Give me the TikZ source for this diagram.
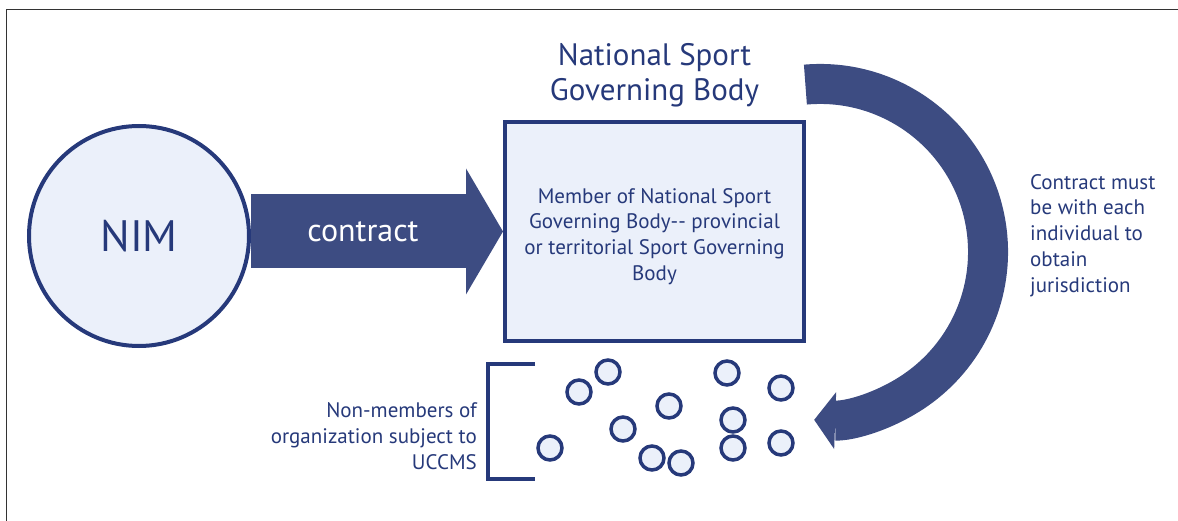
\documentclass[tikz,border=0pt]{standalone}
\usepackage{fontspec}
\setmainfont{PT Sans}
\usepackage{tikz}
\usetikzlibrary{arrows.meta,positioning}

\definecolor{navy}{HTML}{26397A}
\definecolor{arrowblue}{HTML}{3D4C82}
\definecolor{paleblue}{HTML}{EBF0FA}

\begin{document}
\begin{tikzpicture}[
    x=1pt, y=1pt,
    every node/.style={text=navy},
    bodytext/.style={font=\fontsize{21}{25.8}\selectfont, inner sep=0pt},
    member/.style={circle, draw=navy, fill=paleblue, line width=3.5pt, minimum size=24pt, inner sep=0pt},
    bigarrow/.style={draw=arrowblue, line width=74pt, -{Triangle[length=37pt, width=126pt, line width=0pt]}},
    bendarrow/.style={draw=arrowblue, line width=40pt, -{Triangle[length=21pt, width=57pt, line width=0pt]}}
]
    \useasboundingbox (0,0) rectangle (1178,-521);
    \draw[line width=1.5pt, black!80] (1178,-9.5) -- (6.5,-9.5) -- (6.5,-521);

    \node[circle, draw=navy, fill=paleblue, line width=4pt, minimum size=220pt, font=\fontsize{44}{44}\selectfont] (nim) at (139,-236) {NIM};
    \node[rectangle, draw=navy, fill=paleblue, line width=4pt, minimum width=299pt, minimum height=219pt] (box) at (654.5,-231.5) {};
    \node[bodytext, align=center] (boxtext) at ([yshift=-5pt]box.center) {Member of National Sport\\Governing Body-{}- provincial\\or territorial Sport Governing\\Body};
    \node[above=13pt of box, align=center, inner sep=0pt, font=\fontsize{31}{35}\selectfont] (nsgb) {National Sport\\Governing Body};

    \node[bodytext, align=left, anchor=west] (juris) at (1030,-235.5) {Contract must\\be with each\\individual to\\obtain\\jurisdiction};
    \node[bodytext, align=right, anchor=east] (nonmem) at (477,-436) {Non-members of\\organization subject to\\UCCMS};

    % individuals outside the organization
    \node[member] (m1) at (608,-372) {};
    \node[member] (m2) at (579,-392) {};
    \node[member] (m3) at (669,-406) {};
    \node[member] (m4) at (623,-429) {};
    \node[member] (m5) at (550,-448) {};
    \node[member] (m6) at (652,-458) {};
    \node[member] (m7) at (681,-463) {};
    \node[member] (m8) at (727,-373) {};
    \node[member] (m9) at (733,-420) {};
    \node[member] (m10) at (733,-448) {};
    \node[member] (m11) at (781,-388) {};
    \node[member] (m12) at (781,-443) {};

    \draw[navy, line width=4pt] (535,-363.5) -- (487.5,-363.5) -- (487.5,-479) -- (535,-479);

    \draw[bigarrow] (nim.east |- box) -- node[pos=0.444, text=white, font=\fontsize{32}{32}\selectfont] (contract) {contract} (box.west);
    \coordinate (arcstart) at (805.4,-84.6);
    \draw[bendarrow] (arcstart) arc[start angle=95, end angle=-92, radius=168];
\end{tikzpicture}
\end{document}
